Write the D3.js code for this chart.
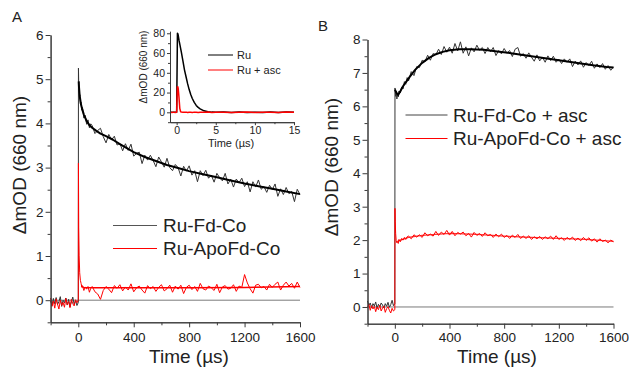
<!DOCTYPE html>
<html>
<head>
<meta charset="utf-8">
<script src="https://cdn.jsdelivr.net/npm/d3@7"></script>
<style>
body{margin:0;background:#fff;}
svg{display:block;font-family:"Liberation Sans",Arial,sans-serif;}
</style>
</head>
<body>
<svg id="fig" width="629" height="369"></svg>
<script>
// shared time axis of the transients (µs)
const timeUs = [-200,-190,-180,-170,-160,-150,-140,-130,-120,-110,-100,-90,-80,-70,-60,-50,-40,-30,-20,-10,
  0,1,3,6,10,15,20,25,30,40,50,60,70,80,90,
  100,120,140,160,180,200,220,240,260,280,300,320,340,360,380,400,420,440,460,480,
  500,520,540,560,580,600,620,640,660,680,700,720,740,760,780,800,820,840,860,880,
  900,920,940,960,980,1000,1020,1040,1060,1080,1100,1120,1140,1160,1180,1200,1220,1240,1260,1280,
  1300,1320,1340,1360,1380,1400,1420,1440,1460,1480,1500,1520,1540,1560,1580,1600];

// panel A
const aRuFdCo = [-0.02,-0.12,0.04,-0.08,0.06,-0.10,-0.03,0.08,-0.14,0.00,-0.06,0.05,-0.11,0.02,-0.15,-0.04,0.07,-0.09,-0.01,-0.12,
  -0.05,5.25,4.90,4.70,4.66,4.45,4.48,4.30,4.36,4.12,4.18,3.98,4.08,3.90,3.99,
  3.95,3.77,3.84,3.89,3.70,3.56,3.75,3.63,3.71,3.51,
  3.55,3.38,3.54,3.39,3.53,3.26,3.32,3.35,3.09,3.28,
  3.17,3.28,3.16,3.02,3.24,3.13,3.01,3.21,3.00,2.93,
  3.07,3.00,2.81,3.03,2.92,3.04,2.83,2.93,2.68,2.93,
  2.82,2.94,2.76,2.83,2.67,2.87,2.77,2.70,2.87,2.63,
  2.74,2.56,2.74,2.66,2.76,2.57,2.68,2.45,2.68,2.56,
  2.72,2.51,2.57,2.44,2.60,2.50,2.63,2.35,2.52,2.39,
  2.55,2.41,2.46,2.23,2.51,2.39];
const aRuApoFdCo = [0.05,-0.14,-0.02,-0.18,0.03,-0.09,-0.20,0.00,-0.12,-0.05,-0.16,0.04,-0.10,-0.03,-0.17,0.02,-0.08,-0.13,0.01,-0.06,
  0.00,3.10,1.65,1.02,0.62,0.45,0.38,0.30,0.33,0.22,0.30,0.25,0.31,0.18,0.27,
  0.31,0.19,0.14,0.02,0.22,0.31,0.25,0.17,0.33,0.27,
  0.35,0.21,0.30,0.23,0.37,0.19,0.28,0.32,0.23,0.16,
  0.33,0.26,0.31,0.20,0.29,0.35,0.21,0.26,0.34,0.18,
  0.32,0.25,0.34,0.15,0.29,0.34,0.24,0.31,0.20,0.38,
  0.26,0.23,0.32,0.28,0.22,0.36,0.17,0.30,0.33,0.25,
  0.27,0.35,0.20,0.32,0.29,0.58,0.39,0.26,0.16,0.34,
  0.36,0.28,0.31,0.23,0.36,0.29,0.36,0.41,0.23,0.34,
  0.41,0.32,0.38,0.27,0.41,0.29];
const fitATime = [3,5,10,20,30,40,60,80,100,130,160,200,250,300,350,400,480,560,640,720,800,900,1000,1100,1200,1300,1400,1500,1600];
const fitARuFdCo = [4.95,4.82,4.62,4.42,4.30,4.20,4.05,3.96,3.90,3.83,3.77,3.71,3.63,3.53,3.44,3.35,3.24,3.15,3.06,2.99,2.92,2.85,2.78,2.71,2.64,2.58,2.52,2.46,2.40];
const fitARedTime = [20,40,100,400,800,1200,1600];
const fitARuApoFdCo = [0.31,0.29,0.28,0.28,0.28,0.29,0.31];

// panel B (+ ascorbate)
const bRuFdCo = [0.18,0.05,0.12,-0.02,0.10,0.03,0.15,-0.04,0.08,0.00,0.12,0.06,-0.03,0.10,0.02,0.14,-0.01,0.07,0.20,0.04,
  0.10,6.55,6.48,6.30,6.45,6.22,6.38,6.28,6.46,6.40,6.58,6.52,6.74,6.66,6.86,
  6.76,7.04,6.92,7.19,7.16,7.38,7.33,7.53,7.38,7.58,
  7.54,7.71,7.55,7.79,7.62,7.77,7.59,7.88,7.66,7.93,
  7.59,7.78,7.51,7.75,7.63,7.83,7.68,7.76,7.58,7.76,
  7.63,7.76,7.52,7.67,7.57,7.73,7.59,7.67,7.49,7.71,
  7.76,7.50,7.58,7.44,7.60,7.47,7.35,7.54,7.36,7.47,
  7.32,7.51,7.37,7.50,7.32,7.41,7.28,7.42,7.32,7.42,
  7.19,7.35,7.24,7.36,7.17,7.31,7.22,7.35,7.14,7.27,
  7.16,7.28,7.11,7.22,7.08,7.18];
const bRuApoFdCo = [-0.02,0.08,-0.10,0.04,-0.06,0.02,-0.14,0.00,-0.08,0.05,-0.12,-0.03,0.03,-0.16,-0.05,0.01,-0.10,-0.18,-0.04,-0.12,
  -0.08,2.95,2.55,2.20,1.98,1.92,1.96,1.90,2.02,1.95,2.05,2.00,2.08,2.02,2.10,
  2.12,2.04,2.16,2.09,2.16,2.08,2.22,2.13,2.18,2.12,
  2.26,2.14,2.24,2.17,2.29,2.15,2.26,2.13,2.23,2.18,
  2.24,2.13,2.20,2.09,2.23,2.14,2.20,2.11,2.22,2.13,
  2.17,2.08,2.18,2.10,2.18,2.08,2.14,2.05,2.15,2.08,
  2.17,2.05,2.12,2.05,2.13,2.02,2.10,2.04,2.11,2.02,
  2.10,2.04,2.12,2.02,2.13,2.02,2.07,1.99,2.08,2.02,
  2.09,1.99,2.06,1.98,2.08,1.99,2.07,1.97,2.04,1.94,
  2.04,1.96,2.00,1.92,2.00,1.95];
const fitBTime = [1,10,24,40,60,80,110,150,200,250,300,350,400,470,550,650,750,850,950,1050,1150,1250,1350,1450,1550,1600];
const fitBRuFdCo = [6.50,6.42,6.34,6.45,6.60,6.72,6.89,7.10,7.30,7.45,7.56,7.63,7.68,7.71,7.71,7.69,7.64,7.59,7.53,7.47,7.41,7.35,7.29,7.23,7.18,7.16];
const fitBRedTime = [20,100,200,400,600,800,1000,1200,1400,1600];
const fitBRuApoFdCo = [1.97,2.08,2.14,2.20,2.17,2.12,2.08,2.05,2.02,1.96];

// inset (Ru alone, µs)
const insetTime = [-0.8,-0.6,-0.4,-0.2,0,0.05,0.1,0.15,0.2,0.3,0.4,0.5,0.6,0.8,1.0,1.2,1.4,1.6,1.8,2.0,2.25,2.5,2.75,3.0,3.5,4,4.5,5,6,7,8,9,10,11,12,13,14,15];
const insetRu = [0,0,0,0,0,40,80,79.5,78,73,69,65,61,52,43,36,29,23,18,14,10,7,5,3.5,1.5,0.6,0.2,0,0.3,-0.2,0.2,-0.3,0.1,-0.2,0.2,-0.1,0.2,0];
const insetRuAsc = [0.3,-0.3,0.2,-0.2,0,14,26,26,24,15,4,0.8,0.2,0,0,0.2,-0.2,0.1,0,-0.1,0.2,0,-0.2,0.1,0,0.2,-0.1,0,0.1,-0.2,0,0.2,-0.1,0,0.1,-0.1,0.2,0];

// ticks
const xTicksMain = [0,400,800,1200,1600];
const xMinorMain = [-200,200,600,1000,1400];
const yTicksA = [0,1,2,3,4,5,6];
const yMinorA = [-0.5,0.5,1.5,2.5,3.5,4.5,5.5];
const yTicksB = [0,1,2,3,4,5,6,7,8];
const yMinorB = [-0.5,0.5,1.5,2.5,3.5,4.5,5.5,6.5,7.5];
const xTicksInset = [0,5,10,15];
const xMinorInset = [2.5,7.5,12.5];
const yTicksInset = [0,20,40,60,80];
const yMinorInset = [-10,10,30,50,70];

const svg = d3.select("#fig");
const axisColor = "#3a3a3a", textColor = "#222";
const plain = d => String(d);

function drawAxes(g, x, y, o){
  const yb = y.range()[0], xl = x.range()[0];
  // minor ticks first
  g.append("g").attr("transform", "translate(0," + yb + ")")
    .call(d3.axisBottom(x).tickValues(o.xMinor).tickSize(o.minor).tickSizeOuter(0).tickFormat(""));
  g.append("g").attr("transform", "translate(" + xl + ",0)")
    .call(d3.axisLeft(y).tickValues(o.yMinor).tickSize(o.minor).tickSizeOuter(0).tickFormat(""));
  g.append("g").attr("transform", "translate(0," + yb + ")")
    .call(d3.axisBottom(x).tickValues(o.xMajor).tickSize(o.major).tickSizeOuter(0).tickPadding(o.xPad).tickFormat(plain));
  g.append("g").attr("transform", "translate(" + xl + ",0)")
    .call(d3.axisLeft(y).tickValues(o.yMajor).tickSize(o.major).tickSizeOuter(0).tickPadding(o.yPad).tickFormat(plain));
  g.selectAll(".domain").attr("stroke", axisColor).attr("stroke-width", 1);
  g.selectAll(".tick line").attr("stroke", axisColor);
  g.selectAll(".tick text").attr("fill", textColor)
    .style("font-size", o.fs + "px").style("font-family", '"Liberation Sans", Arial, sans-serif');
}

function trace(g, x, y, t, v, color, width, opacity){
  const line = d3.line().x(d => x(d[0])).y(d => y(d[1]));
  g.append("path").datum(d3.zip(t, v))
    .attr("d", line).attr("fill", "none")
    .attr("stroke", color).attr("stroke-width", width)
    .attr("stroke-opacity", opacity || 1).attr("stroke-linejoin", "round");
}

function zeroLine(g, x, y){
  g.append("line")
    .attr("x1", x.range()[0]).attr("x2", x.range()[1])
    .attr("y1", y(0)).attr("y2", y(0))
    .attr("stroke", "#7a7a7a").attr("stroke-width", 1);
}

function legend(g, items, x1, x2, tx, fs){
  items.forEach(it => {
    g.append("line").attr("x1", x1).attr("x2", x2).attr("y1", it.y).attr("y2", it.y)
      .attr("stroke", it.color).attr("stroke-width", 1);
    g.append("text").attr("x", tx).attr("y", it.y).attr("dy", "0.36em")
      .attr("fill", textColor).style("font-size", fs + "px").text(it.label);
  });
}

function title(g, txt, x, y, fs, rot){
  g.append("text").attr("text-anchor", "middle")
    .attr("transform", "translate(" + x + "," + y + ")" + (rot ? " rotate(-90)" : ""))
    .attr("fill", textColor).style("font-size", fs + "px").text(txt);
}

/* ---------- panel A ---------- */
const gA = svg.append("g");
const xA = d3.scaleLinear().domain([-200, 1600]).range([50.6, 300]);
const yA = d3.scaleLinear().domain([-0.5, 6]).range([322.3, 35]);
zeroLine(gA, xA, yA);
trace(gA, xA, yA, timeUs, aRuFdCo, "#333", 1);
trace(gA, xA, yA, fitATime, fitARuFdCo, "#000", 2);
trace(gA, xA, yA, timeUs, aRuApoFdCo, "#ff0000", 1);
trace(gA, xA, yA, fitARedTime, fitARuApoFdCo, "#ff0000", 1.5);
drawAxes(gA, xA, yA, {xMajor: xTicksMain, xMinor: xMinorMain, yMajor: yTicksA, yMinor: yMinorA,
  major: 5, minor: 3, xPad: 5, yPad: 2, fs: 13.5});
legend(gA, [{label: "Ru-Fd-Co", color: "#555", y: 225.5}, {label: "Ru-ApoFd-Co", color: "#ff0000", y: 248.5}], 113, 157, 163, 19);
title(gA, "Time (\u00b5s)", 189, 363, 19, false);
title(gA, "\u0394mOD (660 nm)", 26, 165, 19, true);
gA.append("text").attr("x", 12).attr("y", 22).attr("fill", textColor).style("font-size", "15px").text("A");

/* ---------- inset ---------- */
const gI = svg.append("g");
const xI = d3.scaleLinear().domain([-0.85, 15]).range([170, 294]);
const yI = d3.scaleLinear().domain([-10, 82]).range([122.2, 31.3]);
trace(gI, xI, yI, insetTime, insetRu, "#000", 1.5);
trace(gI, xI, yI, insetTime, insetRuAsc, "#ff0000", 1.5);
drawAxes(gI, xI, yI, {xMajor: xTicksInset, xMinor: xMinorInset, yMajor: yTicksInset, yMinor: yMinorInset,
  major: 3, minor: 2, xPad: 1, yPad: 2, fs: 10.5});
legend(gI, [{label: "Ru", color: "#000", y: 55}, {label: "Ru + asc", color: "#ff0000", y: 70}], 208, 233, 237, 11);
title(gI, "Time (\u00b5s)", 231, 147, 11, false);
title(gI, "\u0394mOD (660 nm)", 147, 67, 10, true);

/* ---------- panel B ---------- */
const gB = svg.append("g");
const xB = d3.scaleLinear().domain([-200, 1600]).range([367.5, 613.5]);
const yB = d3.scaleLinear().domain([-0.5, 8]).range([323.7, 39.5]);
zeroLine(gB, xB, yB);
trace(gB, xB, yB, timeUs, bRuFdCo, "#333", 1);
trace(gB, xB, yB, fitBTime, fitBRuFdCo, "#000", 2);
trace(gB, xB, yB, timeUs, bRuApoFdCo, "#ff0000", 1);
trace(gB, xB, yB, fitBRedTime, fitBRuApoFdCo, "#ff0000", 1.2, 0.8);
drawAxes(gB, xB, yB, {xMajor: xTicksMain, xMinor: xMinorMain, yMajor: yTicksB, yMinor: yMinorB,
  major: 5, minor: 3, xPad: 4, yPad: 2, fs: 13.5});
legend(gB, [{label: "Ru-Fd-Co + asc", color: "#444", y: 115}, {label: "Ru-ApoFd-Co + asc", color: "#ff0000", y: 138.5}], 405.5, 447.5, 453, 19);
title(gB, "Time (\u00b5s)", 497, 363, 19, false);
title(gB, "\u0394mOD (660 nm)", 338, 167, 19, true);
gB.append("text").attr("x", 318).attr("y", 31).attr("fill", textColor).style("font-size", "15px").text("B");
</script>
</body>
</html>
